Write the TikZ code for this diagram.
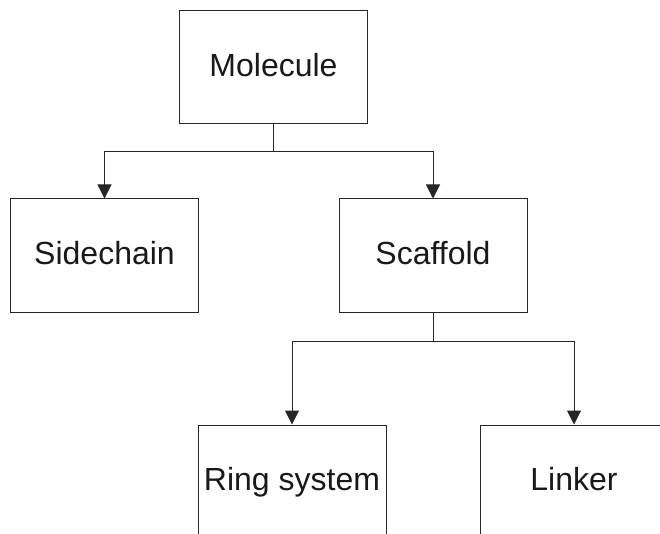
\documentclass[tikz,border=0pt]{standalone}
\usepackage{fontspec}
\setmainfont{Liberation Sans}
\usetikzlibrary{arrows.meta}
\begin{document}
\begin{tikzpicture}[x=1pt,y=-1pt,
  box/.style={draw=black!85, line width=1pt, rectangle, inner sep=0pt,
    minimum width=188pt, minimum height=113pt, text height=24pt, text depth=6pt,
    font=\fontsize{32}{38}\selectfont, text=black!90},
  link/.style={draw=black!85, line width=1pt, -{Triangle[width=14pt,length=14pt]}}]
\useasboundingbox (0,0) rectangle (660,534);
\clip (0,0) rectangle (660,534);
\node[box] (mol)  at (273.5,67.5)  {Molecule};
\node[box] (side) at (104.5,255.5) {Sidechain};
\node[box] (scaf) at (433,255.5)   {Scaffold};
\node[box] (ring) at (292,481.5)   {Ring system};
\node[box] (link) at (574,481.5)   {Linker};
% branch points
\coordinate (j1) at (mol.south |- 0,152);
\coordinate (j2) at (scaf.south |- 0,341);
\draw[draw=black!85, line width=1pt] (mol.south) -- (j1);
\draw[link] (j1) -| (side.north);
\draw[link] (j1) -| (scaf.north);
\draw[draw=black!85, line width=1pt] (scaf.south) -- (j2);
\draw[link] (j2) -| (ring.north);
\draw[link] (j2) -| (link.north);
\end{tikzpicture}
\end{document}
